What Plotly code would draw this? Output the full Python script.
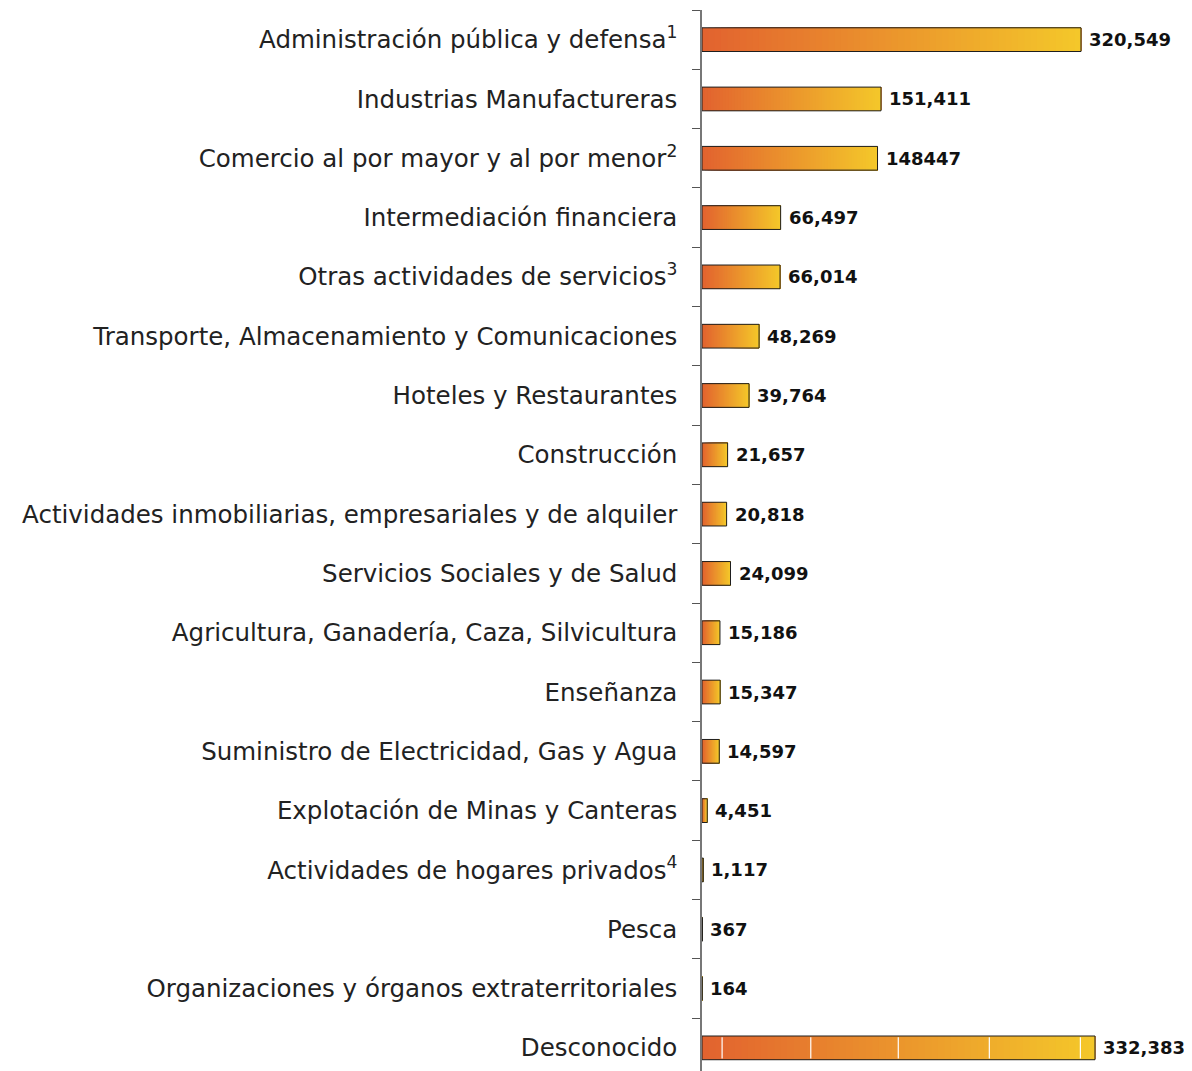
import plotly.graph_objects as go

sectores = [
    "Administración pública y defensa<sup>1</sup>",
    "Industrias Manufactureras",
    "Comercio al por mayor y al por menor<sup>2</sup>",
    "Intermediación financiera",
    "Otras actividades de servicios<sup>3</sup>",
    "Transporte, Almacenamiento y Comunicaciones",
    "Hoteles y Restaurantes",
    "Construcción",
    "Actividades inmobiliarias, empresariales y de alquiler",
    "Servicios Sociales y de Salud",
    "Agricultura, Ganadería, Caza, Silvicultura",
    "Enseñanza",
    "Suministro de Electricidad, Gas y Agua",
    "Explotación de Minas y Canteras",
    "Actividades de hogares privados<sup>4</sup>",
    "Pesca",
    "Organizaciones y órganos extraterritoriales",
    "Desconocido",
]
empleos = [320549, 151411, 148447, 66497, 66014, 48269, 39764, 21657, 20818,
           24099, 15186, 15347, 14597, 4451, 1117, 367, 164, 332383]
etiquetas = ["320,549", "151,411", "148447", "66,497", "66,014", "48,269", "39,764",
             "21,657", "20,818", "24,099", "15,186", "15,347", "14,597", "4,451",
             "1,117", "367", "164", "332,383"]
cortes_desconocido = [17000, 92000, 166000, 243000, 320000]

color_ini = (226, 98, 47)
color_fin = (244, 200, 42)
PASOS = 60
ANCHO = 0.4

fig = go.Figure()

# gradient: each bar painted in overlapping slices, colour follows its own length
for k in range(PASOS):
    t = (k + 0.5) / PASOS
    rgb = [round(a + (b - a) * t) for a, b in zip(color_ini, color_fin)]
    fig.add_bar(
        y=sectores,
        x=[v * (1 - k / PASOS) for v in empleos],
        base=[v * k / PASOS for v in empleos],
        orientation="h",
        width=ANCHO,
        marker=dict(color=f"rgb({rgb[0]},{rgb[1]},{rgb[2]})", line=dict(width=0)),
        hoverinfo="skip",
        showlegend=False,
    )

# outline
fig.add_bar(
    y=sectores, x=empleos, base=0, orientation="h", width=ANCHO,
    marker=dict(color="rgba(0,0,0,0)", line=dict(color="#1e1e1e", width=1)),
    showlegend=False,
)

i_desc = sectores.index("Desconocido")
for c in cortes_desconocido:
    fig.add_shape(type="line", xref="x", yref="y", x0=c, x1=c,
                  y0=i_desc - ANCHO / 2 + 0.02, y1=i_desc + ANCHO / 2 - 0.02,
                  line=dict(color="white", width=1.2), layer="above")

for s, v, lab in zip(sectores, empleos, etiquetas):
    fig.add_annotation(x=v, y=s, text=f"<b>{lab}</b>", showarrow=False,
                       xanchor="left", xshift=6,
                       font=dict(family="DejaVu Sans", size=18, color="#111111"))

# page body adds an 8px margin, so the figure is kept inside the window
fig.update_layout(
    width=1184, height=1063,
    margin=dict(l=694, r=0, t=2, b=0),
    barmode="overlay",
    plot_bgcolor="white", paper_bgcolor="white",
    font=dict(family="DejaVu Sans", size=24.5, color="#222222"),
)
fig.update_xaxes(range=[0, 414400], visible=False)
fig.update_yaxes(
    type="category", categoryorder="array", categoryarray=sectores,
    range=[17.39, -0.5],
    tickson="boundaries", ticks="outside", ticklen=8, tickcolor="#555555", tickwidth=1,
    showline=True, linecolor="#777777", linewidth=1.5,
    showgrid=False, ticklabelstandoff=18,
)

fig.write_html("out.html")
